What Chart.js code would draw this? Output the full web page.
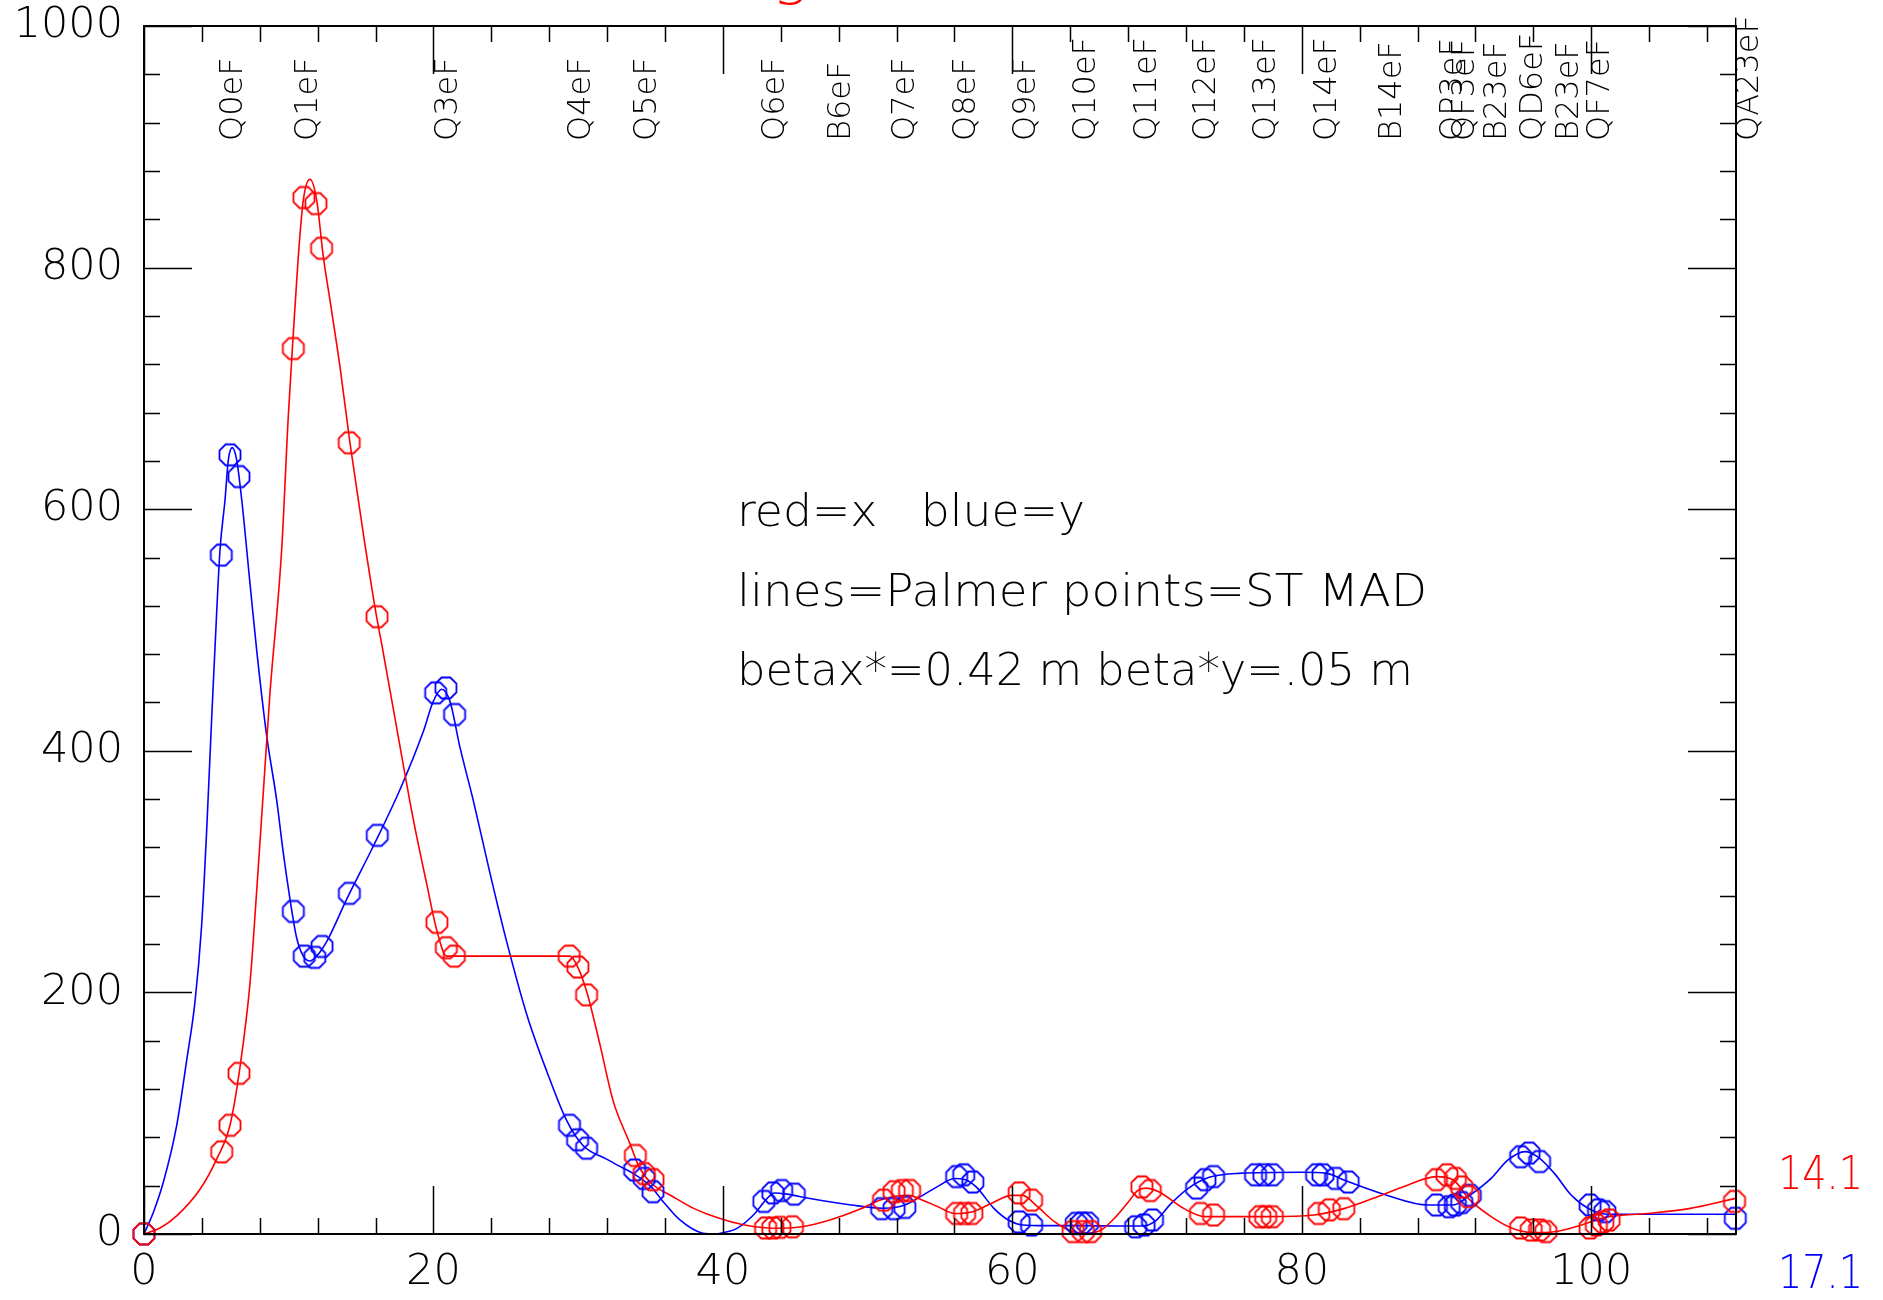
<!DOCTYPE html>
<html>
<head>
<meta charset="utf-8">
<title>beta functions</title>
<script src="https://cdn.jsdelivr.net/npm/chart.js@4.4.1/dist/chart.umd.min.js"></script>
<style>
  html, body { margin: 0; padding: 0; background: #fff; }
  canvas { display: block; }
</style>
</head>
<body>
<canvas id="chart" width="1883" height="1300" style="width:1883px;height:1300px"></canvas>
<script>
// Beta functions along the lattice (s in m, beta in m)
// Smooth lines: Palmer optics
const redLineS = [0,1.11,2.26,3.87,5.02,5.94,6.63,7.32,7.78,8.24,8.7,9.51,9.97,10.32,10.66,11.01,11.47,11.93,12.39,12.85,13.54,14.23,15.15,16.07,16.4,17.46,18.61,19.53,20.22,20.91,21.6,29.43,29.89,30.58,31.5,32.42,33.57,34.19,35.05,36.53,38.01,39.49,41.47,43.94,45.42,47.39,49.36,50.84,51.83,52.82,53.8,54.79,56.02,57.26,58.49,59.97,60.71,61.7,62.93,64.16,65.15,66.14,67.13,68.11,68.66,69.24,70.11,71.86,73.31,77.67,80.87,82.9,84.94,86.98,89.3,90.47,91.63,93.08,94.54,95.99,97.45,98.9,100.35,101.23,103.84,106.75,109.95];
const redLineBeta = [0,5,15,37,62,90,138,207,283,365,447,566,677,746,809,856,873,856,809,773,718,655,580,511,490,419,343,290,252,230,230,230,223,201,157,110,75,56,42,31,21,14,7.5,4.7,6,11.6,20,28,31,32,28,23,17,18.5,25,32,32,23,10,2,0.6,3.3,14,28,36,38,35,21,14.4,14.4,15.7,21,29.5,39,47.5,44.7,28,14.4,4.7,1.1,1.9,6,11.6,14.4,17,21,29.5];

const blueLineS = [0,0.65,1.34,2.26,2.95,3.52,3.98,4.33,4.68,4.9,5.25,5.6,5.83,6.1,6.4,6.75,7.32,7.78,8.47,9.17,9.63,10.09,10.55,11.01,11.47,11.93,12.62,14.0,15.84,17.69,19.3,19.99,20.57,21.14,21.83,22.75,23.9,25.06,26.44,27.82,29.2,30.35,31.96,32.71,33.82,35.05,35.79,37.03,38.63,39.49,39.99,40.97,42.21,42.95,43.56,44.43,45.91,48.87,51.09,52.57,53.8,54.79,56.02,56.76,57.5,58.74,59.72,60.71,62.19,64.66,67.5,68.95,69.82,70.98,72.15,73.6,75.64,80.0,81.74,82.9,85.81,88.72,90.47,91.63,93.08,94.25,95.41,96.28,97.45,98.61,99.77,100.94,103.84,109.95];
const blueLineBeta = [0,18,43,90,144,192,255,334,428,484,566,608,641,651,641,608,539,484,413,359,315,277,245,230,226,230,242,277,321,368,416,441,451,441,403,359,299,242,182,135,94,73,62,57,50,39,28,11.6,0.6,0,1.1,4.7,17,28,34,33,29.6,24,21.3,24,32,39,46,45,39,21,11.6,7.5,6.9,6.9,6.6,6.6,10.2,25.4,37.8,46.9,50.2,51.1,50.2,44.7,32.3,24,24,32.3,46.1,61.3,68.2,64,50.2,32.3,21.3,16.6,16.3,16.3];

// Points: ST MAD output at element edges
const redPointS = [0,5.37,5.94,6.56,10.32,11.05,11.88,12.27,14.18,16.1,20.24,20.89,21.44,29.38,29.98,30.58,33.95,34.56,35.17,42.95,43.45,43.94,44.8,51.1,51.83,52.4,52.9,56.15,56.7,57.2,60.47,61.33,64.2,64.9,65.4,68.95,69.53,73.0,73.9,77.1,77.5,77.96,81.17,81.9,82.9,89.3,90.03,90.61,91.05,91.5,95.12,95.85,96.43,96.86,99.92,100.35,100.8,101.23,109.9];
const redPointBeta = [0,68,90,133,733,858,853,816,655,511,258,237,230,230,221,198,65,50,45,5,5,5.5,6,28,35,36,36,17,17,17,34,28,2,2,2,39,36,17,15.7,14.3,14.3,14.3,17,20,21,45,49,46,39,31,5,3.3,3.3,2,5,7.5,10,11.6,27];

const bluePointS = [0,5.34,5.94,6.56,10.32,11.07,11.8,12.3,14.19,16.12,20.15,20.86,21.46,29.4,29.96,30.58,33.9,34.56,35.17,42.83,43.45,44.06,44.93,50.97,51.83,52.57,56.15,56.64,57.27,60.47,61.33,64.41,64.8,65.2,68.52,69.1,69.68,72.73,73.31,73.9,76.8,77.38,77.97,81.02,81.46,82.33,83.2,89.3,90.18,90.61,91.05,91.64,95.12,95.7,96.43,99.92,100.5,100.94,109.95];
const bluePointBeta = [0,562,645,627,267,230,229,238,282,330,448,452,430,90,78,71,53,46,35,27,34,36,33,21,21,22,47.5,49,43,10,7.4,8.8,9,9,6,7.4,11.6,38,45,47.5,49,49,49,49,49,46,43,24,22.6,24,26,32,64,67,60,24,20,18.5,13];

// Lattice elements marked along the top
const elementNames = ['Q0eF','Q1eF','Q3eF','Q4eF','Q5eF','Q6eF','B6eF','Q7eF','Q8eF','Q9eF','Q10eF','Q11eF','Q12eF','Q13eF','Q14eF','B14eF','QP3eF','QF3eF','B23eF','QD6eF','B23eF','QF7eF','QA23eF'];
const elementS = [5.97,11.13,20.85,30.04,34.57,43.46,47.96,52.42,56.65,60.79,64.91,69.1,73.22,77.37,81.6,86.09,90.28,91.1,93.28,95.79,98.29,100.45,110.74];

// Axes
const xTickValues = [0,20,40,60,80,100];
const yTickValues = [0,200,400,600,800,1000];
const xRange = [0, 110];
const yRange = [0, 1000];
const xMinorStep = 4, xMajorStep = 20;
const yMinorStep = 40, yMajorStep = 200;

// Notes and tunes
const noteLines = ['red=x   blue=y', 'lines=Palmer points=ST MAD', 'betax*=0.42 m beta*y=.05 m'];
const tuneX = '14.1';
const tuneY = '17.1';
const titleText = 'g';

const RED = '#ff0000';
const BLUE = '#0000ff';
const FAMILY = "'DejaVu Sans', 'Noto Sans', sans-serif";
const font = (size) => `200 ${size}px ${FAMILY}`;

function octagon(color) {
  const size = 26, c = size / 2, r = 10.5 / Math.cos(Math.PI / 8);
  const cv = document.createElement('canvas');
  cv.width = size; cv.height = size;
  const g = cv.getContext('2d');
  g.strokeStyle = color;
  g.lineWidth = 1.8;
  g.beginPath();
  for (let k = 0; k < 8; k++) {
    const a = Math.PI / 8 + k * Math.PI / 4;
    const px = c + r * Math.cos(a), py = c + r * Math.sin(a);
    if (k === 0) g.moveTo(px, py); else g.lineTo(px, py);
  }
  g.closePath();
  g.stroke();
  return cv;
}

const pairs = (xs, ys) => xs.map((x, i) => ({ x, y: ys[i] }));

function fitText(ctx, text, x, y, width) {
  const w = ctx.measureText(text).width;
  ctx.save();
  ctx.translate(x, y);
  ctx.scale(width ? width / w : 1, 1);
  ctx.fillText(text, 0, 0);
  ctx.restore();
}

const decorations = {
  id: 'decorations',
  afterDraw(chart) {
    const { ctx, chartArea: a } = chart;
    const x = chart.scales.x, y = chart.scales.y;
    ctx.save();

    // frame
    ctx.strokeStyle = '#000';
    ctx.lineWidth = 2;
    ctx.strokeRect(a.left, a.top, a.right - a.left, a.bottom - a.top);

    // inward ticks on all four sides
    ctx.lineWidth = 1.5;
    ctx.beginPath();
    for (let s = xRange[0]; s <= xRange[1]; s += xMinorStep) {
      const px = Math.round(x.getPixelForValue(s)) + 0.5;
      const len = s % xMajorStep === 0 ? 48 : 16;
      ctx.moveTo(px, a.bottom); ctx.lineTo(px, a.bottom - len);
      ctx.moveTo(px, a.top); ctx.lineTo(px, a.top + len);
    }
    for (let v = yRange[0]; v <= yRange[1]; v += yMinorStep) {
      const py = Math.round(y.getPixelForValue(v)) + 0.5;
      const len = v % yMajorStep === 0 ? 48 : 16;
      ctx.moveTo(a.left, py); ctx.lineTo(a.left + len, py);
      ctx.moveTo(a.right, py); ctx.lineTo(a.right - len, py);
    }
    ctx.stroke();

    // element names, reading upward
    ctx.fillStyle = '#000';
    ctx.font = font(32);
    ctx.textAlign = 'left';
    ctx.textBaseline = 'alphabetic';
    elementNames.forEach((name, i) => {
      const cx = x.getPixelForValue(elementS[i]);
      ctx.save();
      ctx.translate(cx + 11.5, 141);
      ctx.rotate(-Math.PI / 2);
      ctx.fillText(name, 0, 0);
      ctx.restore();
    });

    // notes
    ctx.font = font(44);
    const noteWidths = [348, 690, 676];
    noteLines.forEach((t, i) => fitText(ctx, t, 737, 526 + i * 79.5, noteWidths[i]));

    // tunes
    ctx.font = font(46);
    ctx.fillStyle = RED;
    fitText(ctx, tuneX, 1778, 1189, 85);
    ctx.fillStyle = BLUE;
    fitText(ctx, tuneY, 1778, 1288, 85);

    // title (mostly above the page)
    ctx.fillStyle = RED;
    ctx.font = font(62);
    ctx.fillText(titleText, 772, -8);

    ctx.restore();
  }
};

const ticksFont = { family: FAMILY, size: 43, weight: '200' };
const plainLabel = (v) => String(v);
const noEdgePadding = (s) => {
  s.paddingTop = 0; s.paddingBottom = 0; s.paddingLeft = 0; s.paddingRight = 0;
};

new Chart(document.getElementById('chart'), {
  type: 'scatter',
  data: {
    datasets: [
      { label: 'x ST MAD', data: pairs(redPointS, redPointBeta), showLine: false,
        pointStyle: octagon(RED), pointRadius: 11, pointHoverRadius: 11, clip: false },
      { label: 'y ST MAD', data: pairs(bluePointS, bluePointBeta), showLine: false,
        pointStyle: octagon(BLUE), pointRadius: 11, pointHoverRadius: 11, clip: false },
      { label: 'x Palmer', data: pairs(redLineS, redLineBeta), showLine: true,
        borderColor: RED, borderWidth: 1.6, pointRadius: 0, cubicInterpolationMode: 'monotone' },
      { label: 'y Palmer', data: pairs(blueLineS, blueLineBeta), showLine: true,
        borderColor: BLUE, borderWidth: 1.6, pointRadius: 0, cubicInterpolationMode: 'monotone' }
    ]
  },
  options: {
    responsive: false,
    devicePixelRatio: 1,
    animation: false,
    events: [],
    layout: { padding: { top: 26, right: 147, left: 0, bottom: 0 } },
    plugins: { legend: { display: false }, tooltip: { enabled: false } },
    scales: {
      x: {
        type: 'linear', min: xRange[0], max: xRange[1],
        grid: { display: false, drawTicks: false },
        border: { display: false },
        ticks: { font: ticksFont, color: '#000', padding: 13, maxRotation: 0, autoSkip: false, callback: plainLabel },
        afterBuildTicks: (s) => { s.ticks = xTickValues.map(v => ({ value: v })); },
        afterFit: (s) => { s.height = 66; noEdgePadding(s); }
      },
      y: {
        type: 'linear', min: yRange[0], max: yRange[1],
        grid: { display: false, drawTicks: false },
        border: { display: false },
        ticks: { font: ticksFont, color: '#000', padding: 21, autoSkip: false, callback: plainLabel },
        afterBuildTicks: (s) => { s.ticks = yTickValues.map(v => ({ value: v })); },
        afterFit: (s) => { s.width = 144; noEdgePadding(s); }
      }
    }
  },
  plugins: [decorations]
});
</script>
</body>
</html>
